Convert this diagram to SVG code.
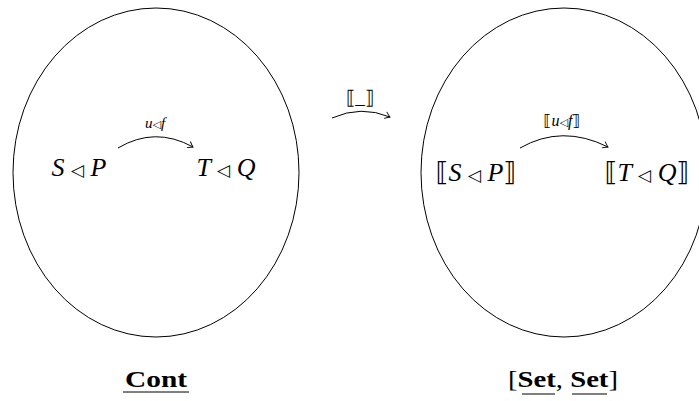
<svg xmlns="http://www.w3.org/2000/svg" width="699" height="401" viewBox="0 0 699 401">
<style>
.ell{fill:none;stroke:#000;stroke-width:1}
.m{font-family:"Liberation Serif","DejaVu Serif",serif;font-style:italic;fill:#000}
.tri{font-family:"DejaVu Sans",sans-serif;font-style:normal}
.br{font-family:"DejaVu Sans","DejaVu Serif",sans-serif;font-style:normal}
.b{font-family:"Liberation Serif","DejaVu Serif",serif;font-weight:bold;fill:#000}
.arr{fill:none;stroke:#000;stroke-width:1;marker-end:url(#to)}
</style>
<defs>
<marker id="to" markerUnits="userSpaceOnUse" markerWidth="12" markerHeight="12" viewBox="-8 -6 10 12" refX="0" refY="0" orient="auto">
<path d="M-5,-3.5 Q-1.5,-0.8 0,0 Q-1.5,0.8 -5,3.5" fill="none" stroke="#000" stroke-width="0.9"/>
</marker>
</defs>
<g id="cont">
<ellipse class="ell" cx="156" cy="172.5" rx="143" ry="164.5"/>
<text class="b" x="156" y="387" font-size="24" text-anchor="middle" textLength="62" lengthAdjust="spacingAndGlyphs">Cont</text>
<line x1="123" y1="392" x2="189" y2="392" stroke="#000" stroke-width="1"/>
</g>
<g id="setset">
<ellipse class="ell" cx="564" cy="172.5" rx="143" ry="164.5"/>
<text class="b" x="563" y="387" font-size="24" text-anchor="middle" textLength="110" lengthAdjust="spacingAndGlyphs"><tspan font-weight="normal">[</tspan>Set<tspan font-weight="normal">, </tspan>Set<tspan font-weight="normal">]</tspan></text>
<line x1="522" y1="394" x2="555" y2="394" stroke="#000" stroke-width="1"/>
<line x1="572" y1="394" x2="607" y2="394" stroke="#000" stroke-width="1"/>
</g>
<g id="SP">
<text class="m" x="79" y="176" font-size="26" text-anchor="middle">S <tspan class="tri" font-size="17">◁</tspan> P</text>
</g>
<g id="TQ">
<text class="m" x="226" y="176" font-size="26" text-anchor="middle">T <tspan class="tri" font-size="17">◁</tspan> Q</text>
</g>
<g id="SSP">
<text class="m" x="476" y="181" font-size="26" text-anchor="middle"><tspan class="br">⟦</tspan>S <tspan class="tri" font-size="17">◁</tspan> P<tspan class="br">⟧</tspan></text>
</g>
<g id="STQ">
<text class="m" x="647" y="181" font-size="26" text-anchor="middle"><tspan class="br">⟦</tspan>T <tspan class="tri" font-size="17">◁</tspan> Q<tspan class="br">⟧</tspan></text>
</g>
<g id="connectors">
<path class="arr" d="M118,148 Q155,126 193,147"/>
<text class="m" x="155" y="128" font-size="15" text-anchor="middle">u<tspan class="tri" font-size="11">◁</tspan>f</text>
<path class="arr" d="M332,118 Q361,105 390,117"/>
<text class="m" x="360" y="104" font-size="19" text-anchor="middle"><tspan class="br">⟦</tspan><tspan font-style="normal">_</tspan><tspan class="br">⟧</tspan></text>
<path class="arr" d="M520,148 Q562,124 608,147"/>
<text class="m" x="562" y="126" font-size="16" text-anchor="middle"><tspan class="br">⟦</tspan>u<tspan class="tri" font-size="11">◁</tspan>f<tspan class="br">⟧</tspan></text>
</g>
</svg>
